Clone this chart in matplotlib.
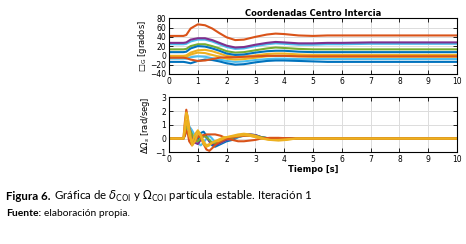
import matplotlib
matplotlib.use("Agg")
import matplotlib.pyplot as plt

# ---------------- data ----------------
t_top = [0, 0.5, 0.6, 0.75, 1.0, 1.25, 1.5, 1.75, 2.0, 2.3, 2.6, 3.0, 3.4, 3.7, 4.0, 4.5, 5.0, 5.5, 6, 7, 8, 9, 10]
ang_red = [42, 42, 44, 58, 67, 65, 58, 48, 39, 33, 34, 40, 45, 47, 46, 43, 42, 43, 43, 43, 43, 43, 43]
ang_purple = [27, 27, 28, 34, 37, 37, 33, 27, 21, 17, 18, 23, 27, 29, 28, 26, 26, 27, 27, 28, 28, 28, 28]
ang_lblue = [24, 24, 25, 30, 34, 34, 30, 24, 18, 14, 15, 20, 24, 26, 25, 23, 23, 24, 24, 25, 25, 25, 25]
ang_green = [13, 13, 14, 20, 24, 24, 20, 15, 9, 6, 7, 11, 15, 17, 16, 14, 13, 13, 13, 13, 13, 13, 13]
ang_dblue = [7, 7, 8, 15, 20, 19, 15, 10, 4, 1, 2, 6, 9, 10, 10, 8, 7, 7, 7, 7, 7, 7, 7]
ang_yel1 = [-1, -1, 0, 6, 11, 12, 9, 4, -1, -4, -3, 0, 3, 4, 4, 2, 1, 1, 1, 1, 1, 1, 1]
ang_yel2 = [-4, -4, -3, 2, 6, 5, 1, -3, -7, -9, -8, -5, -2, -1, -1, -2, -3, -3, -3, -3, -3, -3, -3]
ang_lblue2 = [-7, -7, -7, -4, -2, -3, -6, -9, -12, -14, -13, -10, -8, -7, -7, -8, -8, -8, -8, -8, -8, -8, -8]
ang_dred = [-5, -5, -6, -9, -12, -11, -8, -5, -4, -4, -3, -2, -1, -1, -1, -2, -2, -2, -2, -2, -2, -2, -2]
ang_blue = [-14, -14, -15, -17, -12, -9, -10, -13, -17, -20, -19, -15, -12, -11, -11, -12, -13, -14, -14, -14, -14, -14, -14]

t_bot = [0, 0.5, 0.55, 0.6, 0.65, 0.7, 0.8, 0.9, 1.0, 1.1, 1.2, 1.3, 1.4, 1.5, 1.6, 1.7, 1.8, 1.9, 2.0,
         2.2, 2.4, 2.6, 2.8, 3.0, 3.2, 3.5, 3.8, 4.1, 4.4, 4.7, 5, 6, 10]
w_red = [0, 0, 1.2, 2.1, 1.5, 0.6, -0.3, -0.2, 0.1, 0.2, 0.25, 0.3, 0.3, 0.3, 0.3, 0.25, 0.2, 0.1, 0.0,
         -0.1, -0.2, -0.2, -0.15, -0.1, 0, 0.05, 0.05, 0.02, 0, 0, 0, 0, 0]
w_yel = [0, 0, 1.0, 1.9, 1.6, 0.8, -0.5, -0.2, 0.4, 0.2, -0.4, -0.6, -0.5, -0.3, -0.2, -0.2, -0.1, 0, 0.1,
         0.2, 0.3, 0.35, 0.3, 0.2, 0.05, -0.1, -0.1, -0.05, 0, 0, 0, 0, 0]
w_blue = [0, 0, 0.3, 0.8, 1.0, 0.6, 0.1, -0.2, -0.1, 0.4, 0.5, 0.2, -0.2, -0.5, -0.6, -0.5, -0.4, -0.3, -0.2,
          -0.1, 0.1, 0.25, 0.3, 0.25, 0.1, 0, -0.05, 0, 0, 0, 0, 0, 0]
w_lblue = [0, 0, 0.2, 0.5, 0.8, 0.9, 0.6, 0.2, -0.3, -0.5, -0.3, 0, 0.2, 0, -0.3, -0.4, -0.3, -0.2, -0.1,
           0.0, 0.1, 0.2, 0.25, 0.2, 0.1, 0, 0, 0, 0, 0, 0, 0, 0]
w_purple = [0, 0, 0.4, 1.0, 1.2, 0.8, 0.2, -0.3, -0.4, -0.1, 0.2, 0.1, -0.2, -0.4, -0.45, -0.4, -0.3, -0.2, -0.1,
            0, 0.15, 0.25, 0.3, 0.25, 0.1, 0, -0.05, 0, 0, 0, 0, 0, 0]
w_dred = [0, 0, 0.2, 0.6, 0.4, -0.2, -0.5, -0.2, 0.3, 0.1, -0.4, -0.8, -0.9, -0.7, -0.5, -0.3, -0.2, -0.1, 0,
          0.1, 0.15, 0.2, 0.2, 0.15, 0.05, 0, 0, 0, 0, 0, 0, 0, 0]
w_green = [0, 0, 0.3, 0.7, 0.9, 0.7, 0.3, -0.1, -0.2, 0, 0.2, 0.1, -0.1, -0.3, -0.35, -0.3, -0.2, -0.1, 0,
           0.05, 0.15, 0.2, 0.25, 0.2, 0.1, 0, 0, 0, 0, 0, 0, 0, 0]
w_yel2 = [0, 0, 0.5, 1.3, 1.0, 0.2, -0.3, 0.3, 0.6, 0.3, -0.2, -0.5, -0.4, -0.3, -0.2, -0.1, 0, 0.1, 0.1,
          0.15, 0.2, 0.25, 0.2, 0.1, 0, -0.1, -0.15, -0.1, 0, 0, 0, 0, 0]

x_ticks = [0, 1, 2, 3, 4, 5, 6, 7, 8, 9, 10]
top_yticks = [-40, -20, 0, 20, 40, 60, 80]
bot_yticks = [-1, 0, 1, 2, 3]

C_BLUE, C_RED, C_YEL, C_PUR, C_GRN, C_LBL, C_DRD = (
    "#0072BD", "#D95319", "#EDB120", "#7E2F8E", "#77AC30", "#4DBEEE", "#A2142F")

# ---------------- figure ----------------
plt.rcParams["mathtext.fontset"] = "dejavusans"
fig = plt.figure(figsize=(4.66, 2.44), dpi=100)

ax1 = fig.add_axes([0.3627, 0.697, 0.618, 0.228])
ax2 = fig.add_axes([0.3627, 0.376, 0.618, 0.225])

lw = 1.5
top_series = [(ang_lblue2, C_LBL), (ang_yel2, C_YEL), (ang_yel1, C_YEL), (ang_blue, C_BLUE),
              (ang_dred, C_RED), (ang_lblue, C_LBL), (ang_purple, C_PUR), (ang_green, C_GRN),
              (ang_dblue, C_BLUE), (ang_red, C_RED)]
for ys, c in top_series:
    ax1.plot(t_top, ys, color=c, lw=lw)

bot_series = [(w_blue, C_BLUE), (w_lblue, C_LBL), (w_purple, C_PUR), (w_green, C_GRN),
              (w_dred, C_RED), (w_red, C_RED), (w_yel2, C_YEL), (w_yel, C_YEL)]
for ys, c in bot_series:
    ax2.plot(t_bot, ys, color=c, lw=lw)

for ax in (ax1, ax2):
    ax.set_xlim(0, 10)
    ax.set_xticks(x_ticks)
    ax.grid(True, color="#dcdcdc", lw=0.7)
    ax.set_axisbelow(True)
    ax.tick_params(direction="in", length=3, width=0.6, labelsize=5.5, pad=2,
                   top=True, right=True)
    for s in ax.spines.values():
        s.set_linewidth(0.8)

ax1.set_ylim(-40, 80)
ax1.set_yticks(top_yticks)
ax2.set_ylim(-1, 3)
ax2.set_yticks(bot_yticks)

ax1.set_title("Coordenadas Centro Intercia", fontsize=6, fontweight="bold", pad=1.5)
ax1.set_ylabel("□$_\\mathrm{G}$ [grados]", fontsize=6, labelpad=1)
ax2.set_ylabel("$\\Delta\\Omega_s$ [rad/seg]", fontsize=6, labelpad=2)
ax2.set_xlabel("Tiempo [s]", fontsize=6, fontweight="bold", labelpad=1)

# ---------------- caption ----------------
cap_font = "Lato"
fig.canvas.draw()
r = fig.canvas.get_renderer()
t1 = fig.text(6 / 466, 1 - 196 / 244, "Figura 6.", fontsize=8.3, fontweight="bold",
              family=cap_font, va="center")
bb = t1.get_window_extent(r)
fig.text((bb.x1 + 3) / 466, 1 - 196 / 244,
         "Gráfica de $\\delta_{\\mathrm{COI}}$ y $\\Omega_{\\mathrm{COI}}$ partícula estable. Iteración 1",
         fontsize=8.3, family=cap_font, va="center")
t2 = fig.text(6 / 466, 1 - 213 / 244, "Fuente:", fontsize=7.4, fontweight="bold",
              family=cap_font, va="center")
bb2 = t2.get_window_extent(r)
fig.text((bb2.x1 + 3) / 466, 1 - 213 / 244, "elaboración propia.", fontsize=7.4,
         family=cap_font, va="center")

fig.savefig("out.png", dpi=100)
